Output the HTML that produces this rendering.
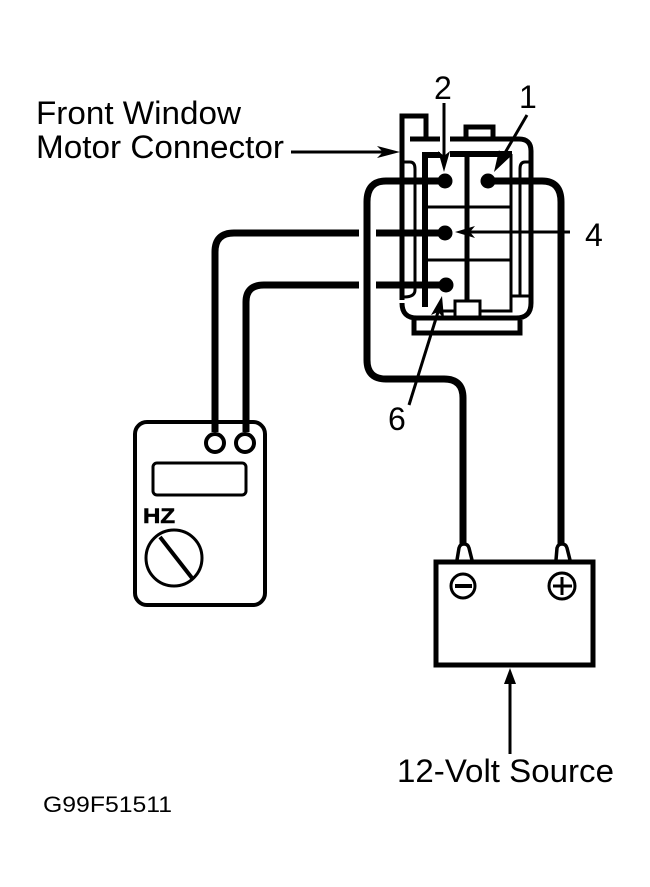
<!DOCTYPE html>
<html><head><meta charset="utf-8"><style>
html,body{margin:0;padding:0;background:#fff}
svg{display:block}
text{font-family:"Liberation Sans",sans-serif;fill:#000}
</style></head><body>
<svg width="650" height="887" viewBox="0 0 650 887" xmlns="http://www.w3.org/2000/svg" fill="none" stroke="#000" stroke-linecap="butt">
<!-- connector housing -->
<g stroke-width="5">
<path d="M402 300V116H426V140"/>
<path d="M466 139V127H493V139"/>
<path d="M410 139H440M450 139H519Q531 139 531 151V303Q531 318 516 318H417Q402 318 402 303"/>
<path d="M414 320V333H520V320"/>
<path d="M425 307V155H440M450 154H512" stroke-width="6"/>
</g>
<g stroke-width="3">
<path d="M467 154V301" stroke-width="5"/>
<path d="M511 154V311H480M454 311H443"/>
<path d="M425 207H512M425 260H511"/>
<path d="M404 162H410Q415 162 415 169V290Q415 297 404 297"/>
<path d="M530 162H525Q520 162 520 169V296"/>
<path d="M511 296H531"/>
<rect x="455" y="301" width="25" height="17"/>
</g>
<!-- wires -->
<g stroke-width="7">
<path d="M445 181H386Q367 181 367 202V360Q367 379 386 379H444Q463 379 463 398V545"/>
<path d="M488 181H542Q561 181 561 202V545"/>
<path d="M445 233H376M359 233H234Q215 233 215 252V432"/>
<path d="M445 285H376M359 285H264Q246 285 246 302V432"/>
</g>
<g fill="#000" stroke="none">
<circle cx="445" cy="181" r="7.5"/><circle cx="488" cy="181" r="7.5"/>
<circle cx="445" cy="233" r="7.5"/><circle cx="446" cy="285" r="7.5"/>
</g>
<!-- leaders -->
<g stroke-width="3">
<path d="M444 103V158"/>
<path d="M527 115L502 158"/>
<path d="M570 232H466"/>
<path d="M409 405L438 312"/>
<path d="M291 152H385"/>
<path d="M510 754V680"/>
</g>
<g fill="#000" stroke="none">
<path d="M444 172L438 151L444 156L450 151Z"/>
<path d="M494 172L499 150L503 157L511 156Z"/>
<path d="M455 232L475 226L470 232L475 238Z"/>
<path d="M442 296L444 318L438 312L431 315Z"/>
<path d="M400 152L377 146L383 152L377 158Z"/>
<path d="M510 668L504 684H516Z"/>
</g>
<!-- meter -->
<rect x="135" y="422" width="130" height="183" rx="12" stroke-width="4"/>
<circle cx="215" cy="443" r="9" stroke-width="4" fill="#fff"/>
<circle cx="245" cy="443" r="9" stroke-width="4" fill="#fff"/>
<rect x="153" y="463" width="93" height="32" rx="4" stroke-width="3"/>
<circle cx="174" cy="558" r="28" stroke-width="3"/>
<path d="M160 537L192 578" stroke-width="4"/>
<text x="143" y="523" font-size="21" font-weight="700" stroke="#000" stroke-width="0.6" textLength="32" lengthAdjust="spacingAndGlyphs">HZ</text>
<!-- battery -->
<g stroke-width="3.5">
<path d="M457 560L459 548Q460 544 464 544Q468 544 469 548L472 560"/>
<path d="M556 560L557 548Q558 544 562 544Q566 544 567 548L570 560"/>
</g>
<rect x="436" y="562" width="157" height="103" stroke-width="5"/>
<circle cx="463" cy="586" r="12" stroke-width="3"/>
<path d="M455 586H472" stroke-width="4"/>
<circle cx="562" cy="586" r="13" stroke-width="3"/>
<path d="M553 586H572M562 577V595" stroke-width="3"/>
<!-- labels -->
<g stroke="none" font-size="32">
<text x="36" y="124" textLength="205" lengthAdjust="spacingAndGlyphs">Front Window</text>
<text x="36" y="158" textLength="248" lengthAdjust="spacingAndGlyphs">Motor Connector</text>
<text x="434" y="99">2</text>
<text x="519" y="108">1</text>
<text x="585" y="246">4</text>
<text x="388" y="430">6</text>
<text x="397" y="782" textLength="217" lengthAdjust="spacingAndGlyphs">12-Volt Source</text>
<text x="43" y="812" font-size="22" textLength="129" lengthAdjust="spacingAndGlyphs">G99F51511</text>
</g>
</svg>
</body></html>
